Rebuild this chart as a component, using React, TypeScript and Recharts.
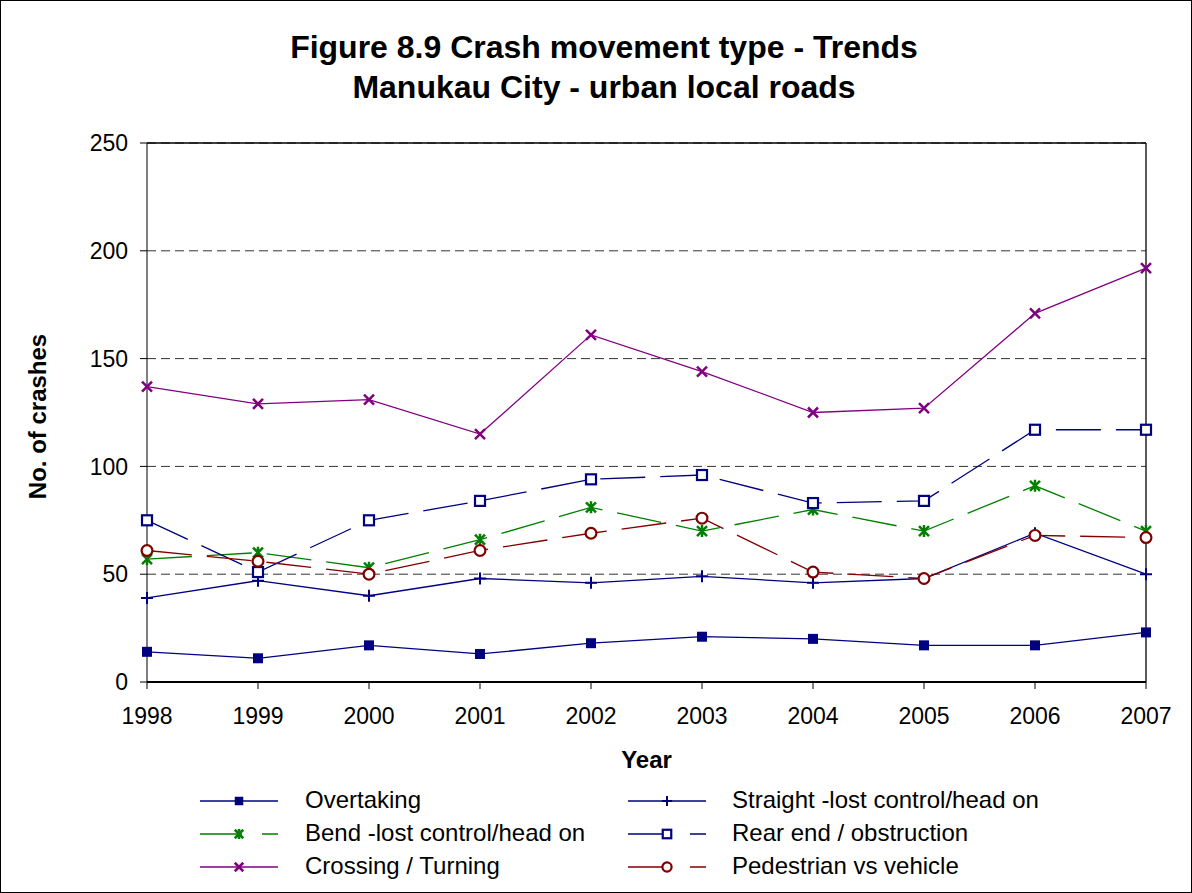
import React from "react"
import { LineChart, Line, XAxis, YAxis, CartesianGrid, Legend, ReferenceLine } from "recharts"

const years = ["1998", "1999", "2000", "2001", "2002", "2003", "2004", "2005", "2006", "2007"]
const overtaking = [14, 11, 17, 13, 18, 21, 20, 17, 17, 23]
const straight = [39, 47, 40, 48, 46, 49, 46, 48, 69, 50]
const bend = [57, 60, 53, 66, 81, 70, 80, 70, 91, 70]
const rearEnd = [75, 51, 75, 84, 94, 96, 83, 84, 117, 117]
const crossing = [137, 129, 131, 115, 161, 144, 125, 127, 171, 192]
const pedestrian = [61, 56, 50, 61, 69, 76, 51, 48, 68, 67]
const yTicks = [0, 50, 100, 150, 200, 250]

type Marker = "fsquare" | "plus" | "star" | "osquare" | "cross" | "circle"

interface SeriesDef {
  key: string
  name: string
  color: string
  marker: Marker
  dashed: boolean
  values: number[]
}

const series: SeriesDef[] = [
  { key: "overtaking", name: "Overtaking", color: "#000080", marker: "fsquare", dashed: false, values: overtaking },
  { key: "straight", name: "Straight -lost control/head on", color: "#000080", marker: "plus", dashed: false, values: straight },
  { key: "bend", name: "Bend -lost control/head on", color: "#008000", marker: "star", dashed: true, values: bend },
  { key: "rear", name: "Rear end / obstruction", color: "#000080", marker: "osquare", dashed: true, values: rearEnd },
  { key: "crossing", name: "Crossing / Turning", color: "#800080", marker: "cross", dashed: false, values: crossing },
  { key: "pedestrian", name: "Pedestrian vs vehicle", color: "#800000", marker: "circle", dashed: true, values: pedestrian },
]

const data = years.map((year, i) => {
  const row: any = { year }
  series.forEach((s) => {
    row[s.key] = s.values[i]
  })
  return row
})

const FONT = "Arial, 'Liberation Sans', sans-serif"

function MarkerShape({ kind, color, cx, cy, k = 1 }: { kind: Marker; color: string; cx: number; cy: number; k?: number }) {
  const h = 5 * k
  switch (kind) {
    case "fsquare":
      return <rect x={cx - h} y={cy - h} width={2 * h} height={2 * h} fill={color} />
    case "osquare":
      return <rect x={cx - h} y={cy - h} width={2 * h} height={2 * h} fill="#fff" stroke={color} strokeWidth={2.2} />
    case "plus":
      return (
        <path d={`M${cx - 6 * k} ${cy}H${cx + 6 * k}M${cx} ${cy - 6 * k}V${cy + 6 * k}`} stroke={color} strokeWidth={2} fill="none" />
      )
    case "cross":
      return (
        <path
          d={`M${cx - h} ${cy - h}L${cx + h} ${cy + h}M${cx - h} ${cy + h}L${cx + h} ${cy - h}`}
          stroke={color}
          strokeWidth={2.5}
          fill="none"
        />
      )
    case "star":
      return (
        <path
          d={`M${cx - h} ${cy - h}L${cx + h} ${cy + h}M${cx - h} ${cy + h}L${cx + h} ${cy - h}M${cx} ${cy - 6 * k}V${cy + 6 * k}`}
          stroke={color}
          strokeWidth={2.5}
          fill="none"
        />
      )
    case "circle":
      return <circle cx={cx} cy={cy} r={5.4 * k} fill="#fff" stroke={color} strokeWidth={2.2} />
  }
  return null
}

const makeDot = (s: SeriesDef) => (props: any) => {
  const { cx, cy, index } = props
  if (cx == null || cy == null) return <g key={`${s.key}-${index}`} />
  return (
    <g key={`${s.key}-${index}`}>
      <MarkerShape kind={s.marker} color={s.color} cx={cx} cy={cy} />
    </g>
  )
}

// legend order: two columns, three rows
const legendOrder = ["overtaking", "straight", "bend", "rear", "crossing", "pedestrian"]

const CustomLegend = () => {
  return (
    <div style={{ position: "relative", width: 1192, height: 100, fontFamily: FONT }}>
      {legendOrder.map((key, i) => {
        const s = series.find((x) => x.key === key)!
        const col = i % 2
        const row = Math.floor(i / 2)
        const lineX = col === 0 ? 200 : 628
        const textX = col === 0 ? 305 : 732
        const cy = 18 + row * 33
        return (
          <div key={key}>
            <svg style={{ position: "absolute", left: lineX, top: cy - 8 }} width={80} height={16}>
              <line
                x1={0}
                y1={8}
                x2={78}
                y2={8}
                stroke={s.color}
                strokeWidth={1.3}
                strokeDasharray={s.dashed ? "42 20" : undefined}
              />
              <MarkerShape kind={s.marker} color={s.color} cx={39} cy={8} k={0.85} />
            </svg>
            <div
              style={{
                position: "absolute",
                left: textX,
                top: cy - 15,
                fontSize: 24,
                lineHeight: "28px",
                color: "#000",
                whiteSpace: "nowrap",
              }}
            >
              {s.name}
            </div>
          </div>
        )
      })}
    </div>
  )
}

export default function App() {
  return (
    <div style={{ position: "relative", width: 1192, height: 893, background: "#fff", fontFamily: FONT }}>
      <style>{`body{margin:0}`}</style>
      <div
        style={{
          position: "absolute",
          top: 27,
          left: 8,
          width: 1192,
          textAlign: "center",
          fontWeight: "bold",
          fontSize: 32,
          lineHeight: "40px",
          color: "#000",
        }}
      >
        Figure 8.9 Crash movement type - Trends
        <br />
        Manukau City - urban local roads
      </div>
      <LineChart width={1192} height={893} data={data} margin={{ top: 143, right: 46, left: 20, bottom: 116 }}>
        <CartesianGrid vertical={false} stroke="#333" strokeDasharray="9 5" />
        <XAxis
          dataKey="year"
          stroke="#000"
          axisLine={{ stroke: "#000", strokeWidth: 2 }}
          tickLine={{ stroke: "#000" }}
          tickSize={7}
          tickMargin={19}
          height={95}
          tick={{ fill: "#000", fontSize: 23, fontFamily: FONT }}
          label={{
            value: "Year",
            position: "insideBottom",
            offset: 9,
            style: { fill: "#000", fontSize: 24, fontWeight: "bold", fontFamily: FONT },
          }}
        />
        <YAxis
          domain={[0, 250]}
          ticks={yTicks}
          stroke="#000"
          width={127}
          tickSize={7}
          tickMargin={12}
          axisLine={{ stroke: "#000" }}
          tickLine={{ stroke: "#000" }}
          tick={{ fill: "#000", fontSize: 23, fontFamily: FONT }}
          label={{
            value: "No. of crashes",
            angle: -90,
            position: "insideLeft",
            offset: 17,
            dy: 4,
            style: { fill: "#000", fontSize: 24, fontWeight: "bold", fontFamily: FONT, textAnchor: "middle" },
          }}
        />
        <ReferenceLine y={250} stroke="#000" strokeWidth={1.3} />
        <ReferenceLine x="2007" stroke="#000" strokeWidth={1.3} />
        <Legend
          layout="horizontal"
          verticalAlign="middle"
          align="center"
          wrapperStyle={{ position: "absolute", top: 783, left: 0, width: 1192, height: 100 }}
          content={<CustomLegend />}
        />
        {series.map((s) => (
          <Line
            key={s.key}
            type="linear"
            dataKey={s.key}
            name={s.name}
            stroke={s.color}
            strokeWidth={1.3}
            strokeDasharray={s.dashed ? "45 15" : undefined}
            dot={makeDot(s)}
            activeDot={false}
            isAnimationActive={false}
          />
        ))}
      </LineChart>
      <div
        style={{
          position: "absolute",
          inset: 0,
          border: "1px solid #000",
          pointerEvents: "none",
        }}
      />
    </div>
  )
}
